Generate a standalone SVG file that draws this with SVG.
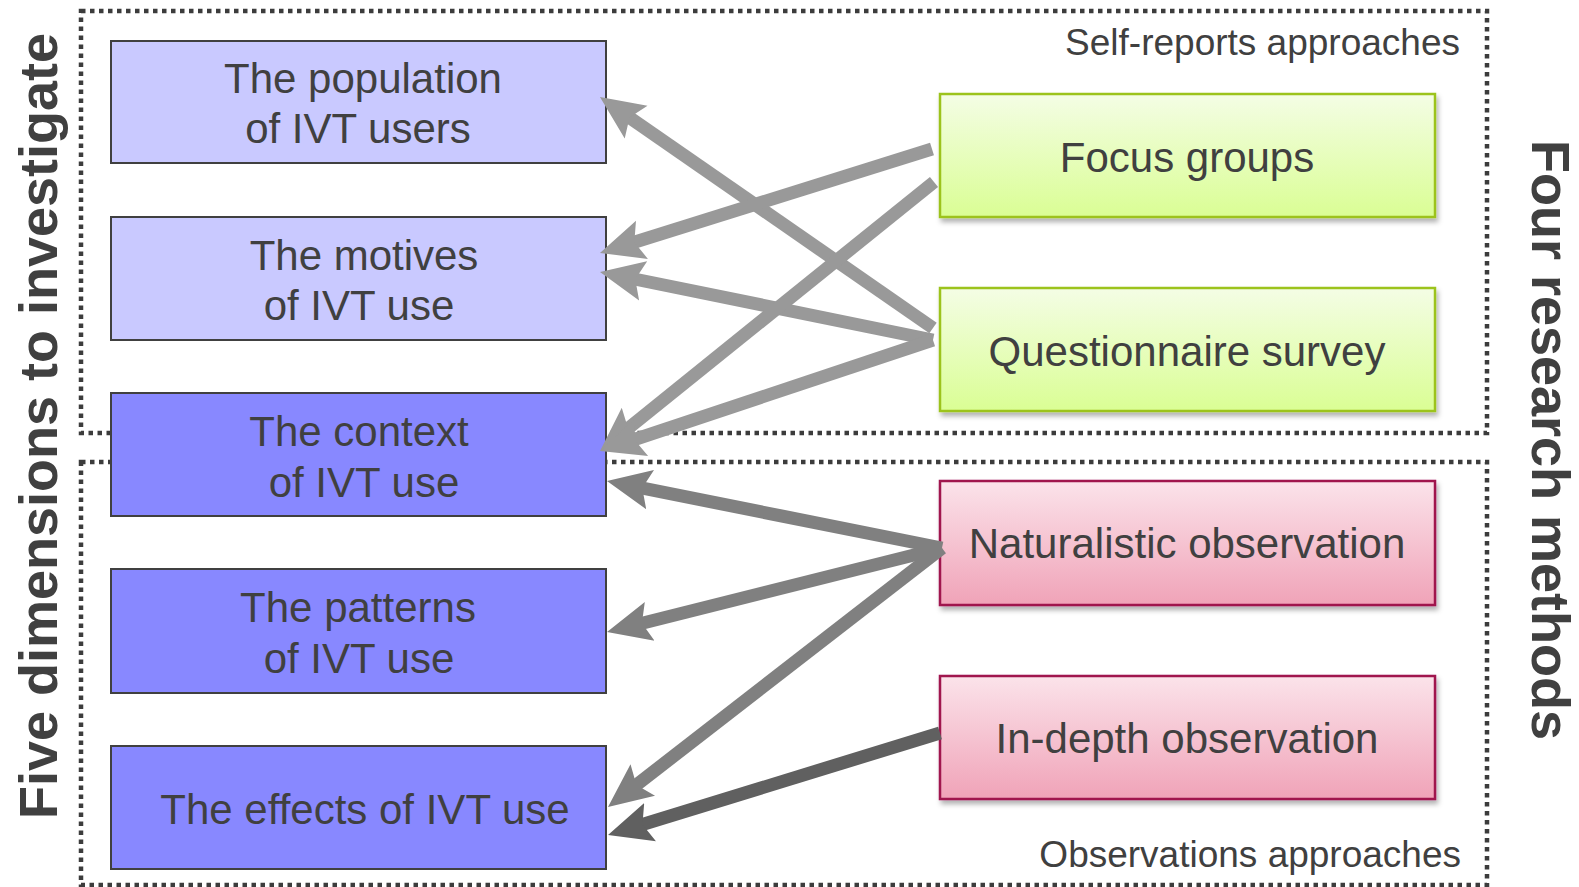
<svg xmlns="http://www.w3.org/2000/svg" width="1579" height="887" viewBox="0 0 1579 887">
  <style>
    .frame { fill: none; stroke: #3C3C3C; stroke-width: 4.5; stroke-dasharray: 4.5 4.5; }
    .dim { stroke: #404040; stroke-width: 2; }
    .dim-light { fill: #C9C9FF; }
    .dim-dark { fill: #8888FF; }
    .lbl { font-family: "Liberation Sans", Arial, sans-serif; font-size: 42px; fill: #404040; text-anchor: middle; }
    .note { font-family: "Liberation Sans", Arial, sans-serif; font-size: 37px; fill: #404040; text-anchor: end; }
    .axis { font-family: "Liberation Sans", Arial, sans-serif; font-size: 54px; font-weight: bold; fill: #404040; text-anchor: middle; }
    .self { fill: url(#gGreen); stroke: #9CC31A; stroke-width: 2.5; }
    .obs { fill: url(#gPink); stroke: #A0134E; stroke-width: 2.5; }
    .link { fill: none; stroke-width: 13; stroke-linecap: butt; }
    .l1 { stroke: #999999; }
    .l2 { stroke: #808080; }
    .l3 { stroke: #606060; }
  </style>
  <defs>
    <linearGradient id="gGreen" x1="0" y1="0" x2="0" y2="1">
      <stop offset="0" stop-color="#F4FDE5"/>
      <stop offset="1" stop-color="#DAFE94"/>
    </linearGradient>
    <linearGradient id="gPink" x1="0" y1="0" x2="0" y2="1">
      <stop offset="0" stop-color="#FBE3EA"/>
      <stop offset="1" stop-color="#F0A3B8"/>
    </linearGradient>
    <filter id="shadow" x="-5%" y="-10%" width="115%" height="130%">
      <feDropShadow dx="2" dy="4" stdDeviation="2.5" flood-color="#000" flood-opacity="0.3"/>
    </filter>
    <marker id="ah1" viewBox="0 0 44 44" refX="14" refY="22" markerWidth="44" markerHeight="44" markerUnits="userSpaceOnUse" orient="auto">
      <path d="M0,2 L44,22 L0,42 L8,22 z" fill="#999999"/>
    </marker>
    <marker id="ah2" viewBox="0 0 44 44" refX="14" refY="22" markerWidth="44" markerHeight="44" markerUnits="userSpaceOnUse" orient="auto">
      <path d="M0,2 L44,22 L0,42 L8,22 z" fill="#808080"/>
    </marker>
    <marker id="ah3" viewBox="0 0 44 44" refX="14" refY="22" markerWidth="44" markerHeight="44" markerUnits="userSpaceOnUse" orient="auto">
      <path d="M0,2 L44,22 L0,42 L8,22 z" fill="#606060"/>
    </marker>
  </defs>

  <rect width="1579" height="887" fill="#FFFFFF"/>

  <!-- approach groupings -->
  <g id="group-self-reports">
    <rect class="frame" x="81" y="11" width="1406" height="422"/>
    <text class="note" x="1460" y="55">Self-reports approaches</text>
  </g>
  <g id="group-observations">
    <rect class="frame" x="81" y="462" width="1406" height="423"/>
    <text class="note" x="1461" y="867">Observations approaches</text>
  </g>

  <!-- axis titles -->
  <text class="axis" transform="translate(57,426) rotate(-90)">Five dimensions to investigate</text>
  <text class="axis" transform="translate(1532,440) rotate(90)">Four research methods</text>

  <!-- dimensions -->
  <g id="dim-population">
    <rect class="dim dim-light" x="111" y="41" width="495" height="122"/>
    <text class="lbl" x="363" y="93">The population</text>
    <text class="lbl" x="358" y="143">of IVT users</text>
  </g>
  <g id="dim-motives">
    <rect class="dim dim-light" x="111" y="217" width="495" height="123"/>
    <text class="lbl" x="364" y="270">The motives</text>
    <text class="lbl" x="359" y="320">of IVT use</text>
  </g>
  <g id="dim-context">
    <rect class="dim dim-dark" x="111" y="393" width="495" height="123"/>
    <text class="lbl" x="359" y="446">The context</text>
    <text class="lbl" x="364" y="497">of IVT use</text>
  </g>
  <g id="dim-patterns">
    <rect class="dim dim-dark" x="111" y="569" width="495" height="124"/>
    <text class="lbl" x="358" y="622">The patterns</text>
    <text class="lbl" x="359" y="673">of IVT use</text>
  </g>
  <g id="dim-effects">
    <rect class="dim dim-dark" x="111" y="746" width="495" height="123"/>
    <text class="lbl" x="365" y="824">The effects of IVT use</text>
  </g>

  <!-- methods -->
  <g id="method-focus-groups">
    <rect class="self" x="940" y="94" width="495" height="123" filter="url(#shadow)"/>
    <text class="lbl" x="1187" y="172">Focus groups</text>
  </g>
  <g id="method-questionnaire">
    <rect class="self" x="940" y="288" width="495" height="123" filter="url(#shadow)"/>
    <text class="lbl" x="1187" y="366">Questionnaire survey</text>
  </g>
  <g id="method-naturalistic">
    <rect class="obs" x="940" y="481" width="495" height="124" filter="url(#shadow)"/>
    <text class="lbl" x="1187" y="558">Naturalistic observation</text>
  </g>
  <g id="method-in-depth">
    <rect class="obs" x="940" y="676" width="495" height="123" filter="url(#shadow)"/>
    <text class="lbl" x="1187" y="753">In-depth observation</text>
  </g>

  <!-- connectors: method to dimension -->
  <g id="connectors">
    <line class="link l1" x1="933" y1="328" x2="624.6" y2="114.1" marker-end="url(#ah1)"/>
    <line class="link l1" x1="932" y1="149" x2="628.6" y2="244.0" marker-end="url(#ah1)"/>
    <line class="link l1" x1="933" y1="340" x2="629.4" y2="278.0" marker-end="url(#ah1)"/>
    <line class="link l1" x1="934" y1="182" x2="623.4" y2="432.2" marker-end="url(#ah1)"/>
    <line class="link l1" x1="933" y1="340" x2="628.5" y2="441.5" marker-end="url(#ah1)"/>
    <line class="link l2" x1="942" y1="548" x2="636.4" y2="486.9" marker-end="url(#ah2)"/>
    <line class="link l2" x1="942" y1="548" x2="636.1" y2="624.7" marker-end="url(#ah2)"/>
    <line class="link l2" x1="942" y1="548" x2="631.7" y2="788.6" marker-end="url(#ah2)"/>
    <line class="link l3" x1="940" y1="733" x2="636.7" y2="826.2" marker-end="url(#ah3)"/>
  </g>
</svg>
